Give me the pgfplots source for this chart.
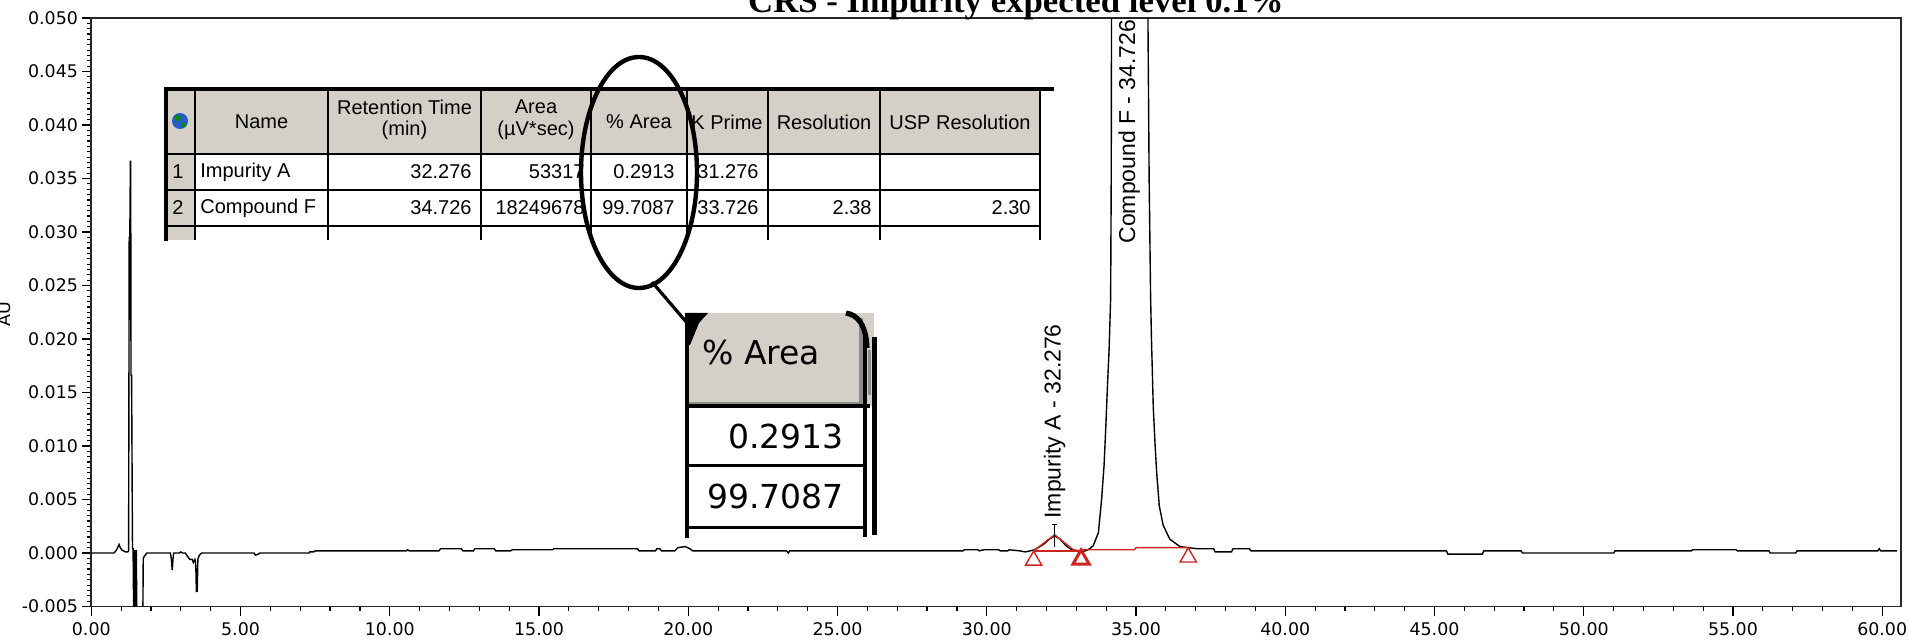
\documentclass[border=0pt]{standalone}
\usepackage{fontspec}
\setmainfont{Liberation Sans}
\newfontfamily\tickfont{DejaVu Sans}
\newfontfamily\magfont{DejaVu Sans}
\newfontfamily\titlefont{Liberation Serif}
\usepackage{pgfplots}
\pgfplotsset{compat=1.18}
\definecolor{hdr}{RGB}{212,208,200}
\definecolor{pk}{RGB}{205,35,35}
\definecolor{globe}{RGB}{40,90,200}
\newcommand{\tf}{\fontsize{10}{11}\selectfont}
\newcommand{\lf}{\fontsize{11.5}{13}\selectfont}
\newcommand{\kf}{\tickfont\fontsize{8.7}{10}\selectfont}

\begin{document}
\begin{tikzpicture}
% page = 1909 x 642 px, 1 px = 0.5pt, axis box from px (91.3,18) to (1901,606.5)
\path[use as bounding box] (-45.65pt,-17.75pt) rectangle (908.85pt,303.25pt);
\begin{axis}[
  at={(0,0)}, anchor=south west,
  scale only axis, width=904.85pt, height=294.25pt,
  xmin=0, xmax=60.63, ymin=-0.005, ymax=0.05,
  xtick={0,5,...,60}, minor x tick num=4,
  ytick={-0.005,0,0.005,0.01,0.015,0.02,0.025,0.03,0.035,0.04,0.045,0.05},
  minor y tick num=9,
  tick pos=left, tick align=outside,
  major tick length=4.5pt, minor tick length=2pt,
  every tick/.style={black, line width=0.6pt},
  scaled x ticks=false, scaled y ticks=false,
  /pgf/number format/assume math mode=true,
  xticklabel style={/pgf/number format/.cd, fixed, fixed zerofill, precision=2, /tikz/.cd, font=\kf},
  yticklabel style={/pgf/number format/.cd, fixed, fixed zerofill, precision=3, /tikz/.cd, font=\kf, inner sep=2pt},
  axis line style={line width=0.8pt, black!85},
]
% chromatogram trace
\addplot[black, line width=0.7pt] coordinates {
  (0,0) (0.76,0) (0.85,0.0003) (0.93,0.0008) (0.97,0.0005) (1.02,0.0003)
  (1.08,0.0002) (1.15,0.0001) (1.22,0.0001) (1.25,0.0002)
  (1.27,0.0295) (1.29,0.0295) (1.31,0.0366) (1.32,0.0366) (1.33,0.0166)
  (1.35,0.0166) (1.38,0.0004) (1.40,0.0004)
  (1.43,-0.009) (1.46,0.0003) (1.48,-0.009) (1.51,0.0003) (1.53,-0.009)
  (1.61,-0.009) (1.72,-0.009) (1.74,-0.0005) (1.78,-0.0003) (1.86,0)
  (2.65,0) (2.68,-0.0005) (2.71,-0.0016) (2.74,-0.0005) (2.76,0)
  (2.95,0) (3.0,0.0001) (3.05,0) (3.15,0) (3.22,-0.0003) (3.3,-0.0006)
  (3.38,-0.0006) (3.42,-0.0009) (3.47,-0.0006) (3.50,-0.001) (3.52,-0.0036)
  (3.55,-0.0036) (3.57,-0.0006) (3.62,-0.0002) (3.7,0)
  (5.45,0) (5.5,-0.0002) (5.6,-0.0001) (5.65,0) (7.3,0) (7.32,0.0001)
  (7.45,0.0001) (7.5,0.0002) (10.55,0.0002) (10.6,0.0003) (10.65,0.0002)
  (11.65,0.0002) (11.7,0.0004) (12.4,0.0004) (12.45,0.0002) (12.8,0.0002)
  (12.85,0.0004) (13.5,0.0004) (13.55,0.0002) (14.05,0.0002) (14.1,0.0003)
  (15.45,0.0003) (15.5,0.0004) (18.3,0.0004) (18.35,0.0002) (18.9,0.0002)
  (18.95,0.0004) (19.05,0.0004) (19.1,0.0002) (19.55,0.0002) (19.65,0.0005)
  (19.9,0.0006) (20.05,0.0004) (20.15,0.0002) (23.3,0.0002) (23.35,0.0)
  (23.4,0.0002) (29.2,0.0002) (29.25,0.0003) (29.7,0.0003) (29.75,0.0002)
  (29.9,0.0003) (30.4,0.0003) (30.45,0.0002) (30.7,0.0002) (30.75,0.0003)
  (31.1,0.0002) (31.3,0.0001) (31.45,0.0002) (31.6,0.0003) (31.9,0.0008)
  (32.1,0.0013) (32.28,0.0016) (32.45,0.0013) (32.65,0.0007) (32.85,0.0003)
  (33.1,0.0001) (33.3,0.0002) (33.45,0.0004) (33.57,0.0007) (33.74,0.0019)
  (33.85,0.0051) (33.93,0.0082) (33.99,0.0119) (34.05,0.016) (34.10,0.0191)
  (34.15,0.0238) (34.17,0.035) (34.18,0.05) (34.3,0.07) (34.73,0.12)
  (35.2,0.07) (35.40,0.05) (35.44,0.035) (35.49,0.0238) (35.52,0.0198)
  (35.58,0.0135) (35.64,0.0101) (35.69,0.0076) (35.78,0.0044) (35.91,0.0026)
  (36.13,0.0013) (36.47,0.0006) (36.75,0.0005) (37.05,0.0004) (37.6,0.0004)
  (37.65,0.0001) (38.2,0.0001) (38.25,0.0004) (38.8,0.0004) (38.85,0.0002)
  (45.4,0.0002) (45.45,-0.0001) (46.6,-0.0001) (46.65,0.0002) (47.9,0.0002)
  (47.95,0.0) (51.0,0.0) (51.05,0.0002) (53.6,0.0002) (53.65,0.0003)
  (55.1,0.0003) (55.15,0.0002) (56.2,0.0002) (56.25,0.0) (57.1,0.0)
  (57.15,0.0002) (59.85,0.0002) (59.9,0.0004) (59.95,0.0002) (60.5,0.0002)
};
% integration (red)
\addplot[pk, line width=0.7pt] coordinates {(31.57,0.0002) (32.276,0.0017) (32.9,0.0003) (33.16,0.0002)};
\addplot[pk, line width=0.7pt] coordinates {(31.57,0.0002) (33.16,0.0002)};
\addplot[pk, line width=0.7pt] coordinates {(33.16,0.0003) (34.95,0.0003) (35.0,0.0005) (36.75,0.0005)};
\addplot[pk, only marks, mark=triangle, mark size=4.7pt, mark options={line width=0.7pt}]
  coordinates {(31.57,-0.0007) (36.75,-0.0004)};
\addplot[pk, only marks, mark=triangle, mark size=4.7pt, mark options={line width=1.5pt}]
  coordinates {(33.16,-0.0006)};
% peak label ticks
\addplot[black, line width=0.6pt] coordinates {(32.276,0.0006) (32.276,0.0027)};
\addplot[black, line width=0.6pt] coordinates {(32.2,0.0027) (32.35,0.0027)};
\node[rotate=90, anchor=west, inner sep=1pt, font=\lf] at (axis cs:32.276,0.0030) {Impurity A - 32.276};
\node[rotate=90, anchor=west, inner sep=1pt, font=\lf] at (axis cs:34.77,0.0287) {Compound F - 34.726};
\end{axis}

% annotations in pixel coordinates of the reference
\begin{scope}[shift={(-45.65pt,303.25pt)}, x=0.5pt, y=-0.5pt]
  % title (cut at the top, as in the reference)
  \node[anchor=base east, inner sep=0, font=\titlefont\bfseries\fontsize{17.4}{20}\selectfont]
    at (1284,13) {CRS - Impurity expected level 0.1\%};
  \node[rotate=90, inner sep=0, font=\kf] at (4,314) {AU};

  % results table
  \fill[hdr] (164,89) rectangle (1040,154);
  \fill[hdr] (164,154) rectangle (195,240);
  \fill[white] (195,154) rectangle (1040,240);
  \foreach \yy in {154,190,226} \draw[line width=0.6pt] (164,\yy) -- (1040,\yy);
  \foreach \xx in {195,328,481,591,687,768,880} \draw[line width=0.6pt] (\xx,89) -- (\xx,240);
  \draw[line width=1.2pt] (1040,89) -- (1040,240);
  \draw[line width=2.2pt] (166,87) -- (166,241);
  \draw[line width=2pt] (164,89) -- (1054,89);
  \fill[globe] (180,121) circle (4pt);
  \fill[green!55!black] (177.5,118) circle (1.6pt);
  \fill[green!55!black] (183.5,125) circle (1.2pt);
  \begin{scope}[every node/.style={inner sep=0, font=\tf}]
    \node at (261.5,122) {Name};
    \node at (404.5,107) {Retention Time};
    \node at (404.5,130) {(min)};
    \node at (536,107) {Area};
    \node at (536,130) {(µV*sec)};
    \node at (639,122) {\% Area};
    \node at (727,122) {K Prime};
    \node at (824,122) {Resolution};
    \node at (960,122) {USP Resolution};
    \node[anchor=west] at (172,172) {1};
    \node[anchor=west] at (172,208) {2};
    \node[anchor=west] at (200,172) {Impurity A};
    \node[anchor=west] at (200,208) {Compound F};
    \node[anchor=east] at (472,172) {32.276};
    \node[anchor=east] at (472,208) {34.726};
    \node[anchor=east] at (585,172) {53317};
    \node[anchor=east] at (585,208) {18249678};
    \node[anchor=east] at (675,172) {0.2913};
    \node[anchor=east] at (675,208) {99.7087};
    \node[anchor=east] at (759,172) {31.276};
    \node[anchor=east] at (759,208) {33.726};
    \node[anchor=east] at (872,208) {2.38};
    \node[anchor=east] at (1031,208) {2.30};
  \end{scope}

  % highlight ellipse and pointer
  \draw[line width=2.2pt] (639,172.5) ellipse [x radius=29pt, y radius=57.75pt];
  \draw[line width=1.6pt] (652,282) -- (700,338);

  % magnified % Area column
  \fill[hdr] (688,313) rectangle (874,406);
  \fill[white] (688,406) rectangle (874,530);
  \fill[black!45] (688,402) rectangle (863,406);
  \fill[black!45] (859,318) rectangle (863,406);
  \fill[black!45] (868,350) rectangle (871,395);
  \draw[line width=1.6pt] (686,406) -- (870,406);
  \draw[line width=1.5pt] (686,466) -- (866,466);
  \draw[line width=1.5pt] (686,528) -- (866,528);
  \draw[line width=2pt] (686.5,313) -- (686.5,538);
  \draw[line width=2pt] (865,335) -- (865,537);
  \draw[line width=2.4pt] (874.5,337) -- (874.5,535);
  \fill (685,313) -- (708,313) -- (699,323) -- (690,345) -- (685,345) -- cycle;
  \draw[line width=2.6pt] (846,313) .. controls (858,315) and (866,325) .. (867,348);
  \begin{scope}[every node/.style={inner sep=0, font=\magfont\fontsize{16.5}{18}\selectfont}]
    \node[anchor=west] at (702,352) {\% Area};
    \node[anchor=east] at (844,436) {0.2913};
    \node[anchor=east] at (844,496) {99.7087};
  \end{scope}
\end{scope}
\end{tikzpicture}
\end{document}
